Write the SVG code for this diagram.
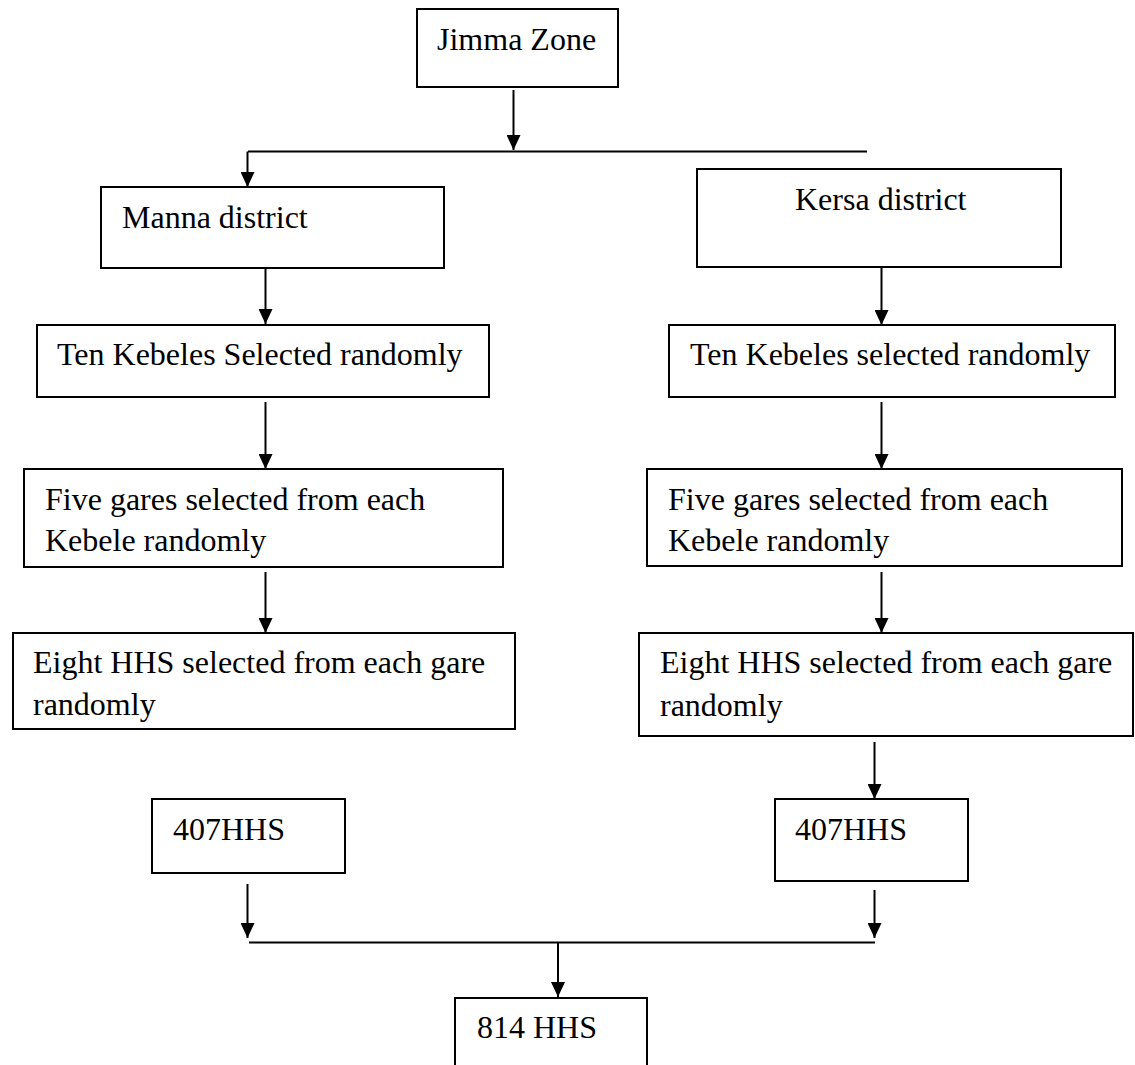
<svg xmlns="http://www.w3.org/2000/svg" width="1135" height="1065" viewBox="0 0 1135 1065">
<style>
.box{fill:#fff;stroke:#000;stroke-width:2}
.t{font-family:"Liberation Serif","Times New Roman",serif;font-size:32px;fill:#000}
.c{stroke:#000;stroke-width:2;fill:none}
.a{stroke:#000;stroke-width:2;fill:none;marker-end:url(#ah)}
</style>
<defs>
<marker id="ah" markerUnits="userSpaceOnUse" markerWidth="15" markerHeight="14" viewBox="0 0 15 14" refX="15" refY="7" orient="auto">
<path d="M0,0 L15,7 L0,14 z" fill="#000"/>
</marker>
</defs>
<rect width="1135" height="1065" fill="#fff"/>
<g id="connectors">
<line class="a" x1="513.5" y1="90" x2="513.5" y2="150"/>
<line class="c" x1="248" y1="151.5" x2="867" y2="151.5"/>
<line class="a" x1="247.5" y1="151.5" x2="247.5" y2="187"/>
<line class="a" x1="265.5" y1="269" x2="265.5" y2="324"/>
<line class="a" x1="881.5" y1="268" x2="881.5" y2="325"/>
<line class="a" x1="265.5" y1="402" x2="265.5" y2="469"/>
<line class="a" x1="881.5" y1="402" x2="881.5" y2="469"/>
<line class="a" x1="265.5" y1="572" x2="265.5" y2="633"/>
<line class="a" x1="881.5" y1="572" x2="881.5" y2="633"/>
<line class="a" x1="874.5" y1="742" x2="874.5" y2="799"/>
<line class="a" x1="247.5" y1="884" x2="247.5" y2="938"/>
<line class="a" x1="874.5" y1="890" x2="874.5" y2="938"/>
<line class="c" x1="249" y1="942.5" x2="875" y2="942.5"/>
<line class="a" x1="558" y1="942.5" x2="558" y2="997"/>
</g>
<g id="jimma"><rect class="box" x="417" y="9" width="201" height="78"/><text class="t" x="437" y="50">Jimma Zone</text></g>
<g id="manna"><rect class="box" x="101" y="187" width="343" height="81"/><text class="t" x="122" y="228">Manna district</text></g>
<g id="kersa"><rect class="box" x="697" y="169" width="364" height="98"/><text class="t" x="795" y="210">Kersa district</text></g>
<g id="manna-kebeles"><rect class="box" x="37" y="325" width="452" height="72"/><text class="t" x="57" y="365">Ten Kebeles Selected randomly</text></g>
<g id="kersa-kebeles"><rect class="box" x="669" y="325" width="446" height="72"/><text class="t" x="690" y="365">Ten Kebeles selected randomly</text></g>
<g id="manna-gares"><rect class="box" x="24" y="469" width="479" height="98"/><text class="t" x="45" y="510">Five gares selected from each</text><text class="t" x="45" y="551">Kebele randomly</text></g>
<g id="kersa-gares"><rect class="box" x="647" y="469" width="475" height="97"/><text class="t" x="668" y="510">Five gares selected from each</text><text class="t" x="668" y="551">Kebele randomly</text></g>
<g id="manna-hhs"><rect class="box" x="13" y="633" width="502" height="96"/><text class="t" x="33" y="673">Eight HHS selected from each gare</text><text class="t" x="33" y="715">randomly</text></g>
<g id="kersa-hhs"><rect class="box" x="639" y="633" width="494" height="103"/><text class="t" x="660" y="673">Eight HHS selected from each gare</text><text class="t" x="660" y="716">randomly</text></g>
<g id="manna-407"><rect class="box" x="152" y="799" width="193" height="74"/><text class="t" x="173" y="840">407HHS</text></g>
<g id="kersa-407"><rect class="box" x="775" y="799" width="193" height="82"/><text class="t" x="795" y="840">407HHS</text></g>
<g id="total"><rect class="box" x="455" y="998" width="192" height="80"/><text class="t" x="477" y="1038">814 HHS</text></g>
</svg>
